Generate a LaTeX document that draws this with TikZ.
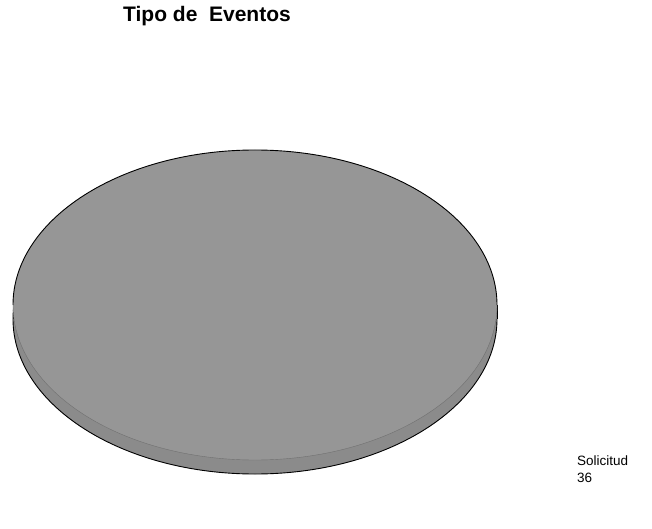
\documentclass[tikz,border=0pt]{standalone}
\usepackage{fontspec}
\setmainfont{Liberation Sans}
\usepackage{tikz}
\pgfmathsetmacro{\cx}{255}
\pgfmathsetmacro{\cy}{305}
\pgfmathsetmacro{\rx}{242}
\pgfmathsetmacro{\ry}{155}
\pgfmathsetmacro{\rimh}{14}
\definecolor{piegray}{RGB}{150,150,150}

\begin{document}
\begin{tikzpicture}[x=1pt, y=-1pt]
		\useasboundingbox (0, 0) rectangle (652, 529);
		\draw[line width = .9pt, fill=piegray!93!black] (\cx, \cy+\rimh) ellipse [x radius=\rx, y radius=\ry];
		\fill[piegray!93!black] (\cx-\rx, \cy) rectangle (\cx+\rx, \cy+\rimh);
		\draw[line width = .9pt] (\cx-\rx, \cy) -- ++(0, \rimh);
		\draw[line width = .9pt] (\cx+\rx, \cy) -- ++(0, \rimh);
		\fill[piegray] (\cx, \cy) ellipse [x radius=\rx, y radius=\ry];
		\draw[line width = .4pt, piegray!75!black] (\cx-\rx, \cy) arc[start angle=180, end angle=0, x radius=\rx, y radius=\ry];
		\draw[line width = .9pt] (\cx-\rx, \cy) arc[start angle=180, end angle=360, x radius=\rx, y radius=\ry];
		\node[font=\bfseries\fontsize{21}{25}\selectfont] (title) at (207, 16) {Tipo de~ Eventos};
		\node[font=\fontsize{13.5}{17}\selectfont, align=left, anchor=north west, inner sep=0pt] (solicitud) at (577, 456) {Solicitud\\36};
	\end{tikzpicture}
\end{document}
